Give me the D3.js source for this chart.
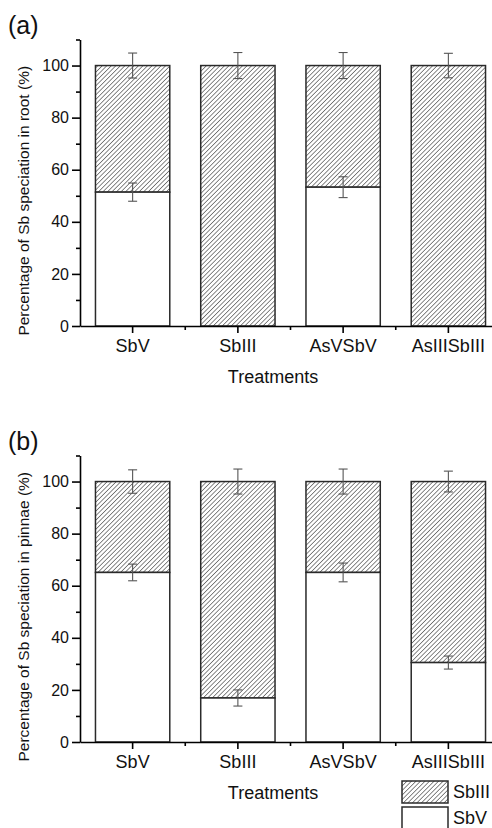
<!DOCTYPE html>
<html>
<head>
<meta charset="utf-8">
<script src="https://cdn.jsdelivr.net/npm/d3@7"></script>
<style>
  body { margin: 0; background: #fff; }
  svg { display: block; font-family: "Liberation Sans", Arial, sans-serif; }
</style>
</head>
<body>
<div id="chart"></div>
<script>
// categories and values (percent)
const categories = ['SbV', 'SbIII', 'AsVSbV', 'AsIIISbIII'];
const yTicks = [0, 20, 40, 60, 80, 100];
const yMinor = [10, 30, 50, 70, 90, 110];

// panel (a) root
const rootSbV = [51.4, 0, 53.3, 0];
const rootSbVErr = [3.5, 0, 4.0, 0];
const rootSbIIIErr = [4.8, 5.0, 5.0, 4.7];

// panel (b) pinnae
const pinnaeSbV = [65.1, 16.9, 65.1, 30.5];
const pinnaeSbVErr = [3.2, 3.1, 3.6, 2.5];
const pinnaeSbIIIErr = [4.5, 4.8, 4.8, 4.0];

const legendLabels = ['SbIII', 'SbV'];

const width = 492, height = 828;
const svg = d3.select('#chart').append('svg')
    .attr('width', width).attr('height', height);

const defs = svg.append('defs');
defs.append('pattern')
    .attr('id', 'hatch')
    .attr('patternUnits', 'userSpaceOnUse')
    .attr('width', 3.2).attr('height', 3.2)
    .attr('patternTransform', 'rotate(45)')
  .append('line')
    .attr('x1', 0).attr('y1', 0).attr('x2', 0).attr('y2', 3.2)
    .attr('stroke', '#3a3a3a').attr('stroke-width', 1.2);

const x = d3.scaleBand()
    .domain(categories)
    .range([80, 501])
    .paddingInner(0.294)
    .paddingOuter(0.147);

function panel(opts) {
    const y = d3.scaleLinear().domain([0, 110]).range([opts.y0, opts.y0 - 286.5]);
    const g = svg.append('g');

    const rows = categories.map((c, i) => ({
        cat: c, sbv: opts.sbv[i], sbvErr: opts.sbvErr[i], sbiiiErr: opts.sbiiiErr[i]
    }));

    // SbIII part (hatched, top of stack)
    g.selectAll('rect.sbiii').data(rows).enter().append('rect')
        .attr('class', 'sbiii')
        .attr('x', d => x(d.cat))
        .attr('width', x.bandwidth())
        .attr('y', y(100))
        .attr('height', d => y(d.sbv) - y(100))
        .attr('fill', 'url(#hatch)')
        .attr('stroke', '#2a2a2a').attr('stroke-width', 1.5);

    // SbV part (white, bottom)
    g.selectAll('rect.sbv').data(rows.filter(d => d.sbv > 0)).enter().append('rect')
        .attr('class', 'sbv')
        .attr('x', d => x(d.cat))
        .attr('width', x.bandwidth())
        .attr('y', d => y(d.sbv))
        .attr('height', d => y(0) - y(d.sbv))
        .attr('fill', '#fff')
        .attr('stroke', '#2a2a2a').attr('stroke-width', 1.5);

    // error bars
    const errs = [];
    rows.forEach(d => {
        errs.push({ cat: d.cat, v: 100, e: d.sbiiiErr });
        if (d.sbv > 0) errs.push({ cat: d.cat, v: d.sbv, e: d.sbvErr });
    });
    const eg = g.selectAll('g.err').data(errs).enter().append('g')
        .attr('class', 'err')
        .attr('stroke', '#555').attr('stroke-width', 1.1);
    const cx = d => x(d.cat) + x.bandwidth() / 2;
    eg.append('line')
        .attr('x1', cx).attr('x2', cx)
        .attr('y1', d => y(d.v + d.e)).attr('y2', d => y(d.v - d.e));
    eg.append('line')
        .attr('x1', d => cx(d) - 4.5).attr('x2', d => cx(d) + 4.5)
        .attr('y1', d => y(d.v + d.e)).attr('y2', d => y(d.v + d.e));
    eg.append('line')
        .attr('x1', d => cx(d) - 4.5).attr('x2', d => cx(d) + 4.5)
        .attr('y1', d => y(d.v - d.e)).attr('y2', d => y(d.v - d.e));

    // y axis
    const yAxis = g.append('g').attr('transform', 'translate(80,0)')
        .call(d3.axisLeft(y).tickValues(yTicks).tickSize(8).tickSizeOuter(0).tickPadding(3));
    g.append('g').attr('transform', 'translate(80,0)')
        .call(d3.axisLeft(y).tickValues(yMinor).tickSize(4).tickSizeOuter(0).tickFormat(''))
        .select('.domain').remove();
    yAxis.selectAll('text').attr('font-size', 16).attr('fill', '#111')
        .attr('font-family', '"Liberation Sans", Arial, sans-serif');

    // x axis
    const xAxis = g.append('g').attr('transform', `translate(0,${opts.y0})`)
        .call(d3.axisBottom(x).tickSize(7).tickSizeOuter(0).tickPadding(6));
    xAxis.selectAll('text').attr('font-size', 18).attr('fill', '#111')
        .attr('font-family', '"Liberation Sans", Arial, sans-serif');
    const boundaries = categories.slice(1).map(c => x(c) - x.step() * x.paddingInner() / 2);
    g.append('g').selectAll('line').data(boundaries).enter().append('line')
        .attr('x1', d => d).attr('x2', d => d)
        .attr('y1', opts.y0).attr('y2', opts.y0 + 4)
        .attr('stroke', '#000').attr('stroke-width', 1.6);

    g.selectAll('.domain, .tick line').attr('stroke', '#000').attr('stroke-width', 1.6);

    // axis titles
    g.append('text')
        .attr('x', 273).attr('y', opts.y0 + 57)
        .attr('text-anchor', 'middle').attr('font-size', 18).attr('fill', '#111')
        .text('Treatments');
    const cy = (y(0) + y(110)) / 2 + 18;
    g.append('text')
        .attr('transform', `translate(29,${cy}) rotate(-90)`)
        .attr('text-anchor', 'middle').attr('font-size', 15.5).attr('fill', '#111')
        .text(opts.ylabel);

    g.append('text')
        .attr('x', 8).attr('y', opts.y0 - 292)
        .attr('font-size', 25).attr('fill', '#111')
        .text(opts.tag);
}

panel({ y0: 326, sbv: rootSbV, sbvErr: rootSbVErr, sbiiiErr: rootSbIIIErr,
        ylabel: 'Percentage of Sb speciation in root (%)', tag: '(a)' });
panel({ y0: 742, sbv: pinnaeSbV, sbvErr: pinnaeSbVErr, sbiiiErr: pinnaeSbIIIErr,
        ylabel: 'Percentage of Sb speciation in pinnae (%)', tag: '(b)' });

// legend
const legend = svg.append('g').selectAll('g').data(legendLabels).enter().append('g')
    .attr('transform', (d, i) => `translate(402,${781 + i * 26})`);
legend.append('rect')
    .attr('width', 46).attr('height', 22)
    .attr('fill', (d, i) => i === 0 ? 'url(#hatch)' : '#fff')
    .attr('stroke', '#2a2a2a').attr('stroke-width', 1.5);
legend.append('text')
    .attr('x', 51).attr('y', 17)
    .attr('font-size', 18).attr('fill', '#111')
    .text(d => d);
</script>
</body>
</html>
